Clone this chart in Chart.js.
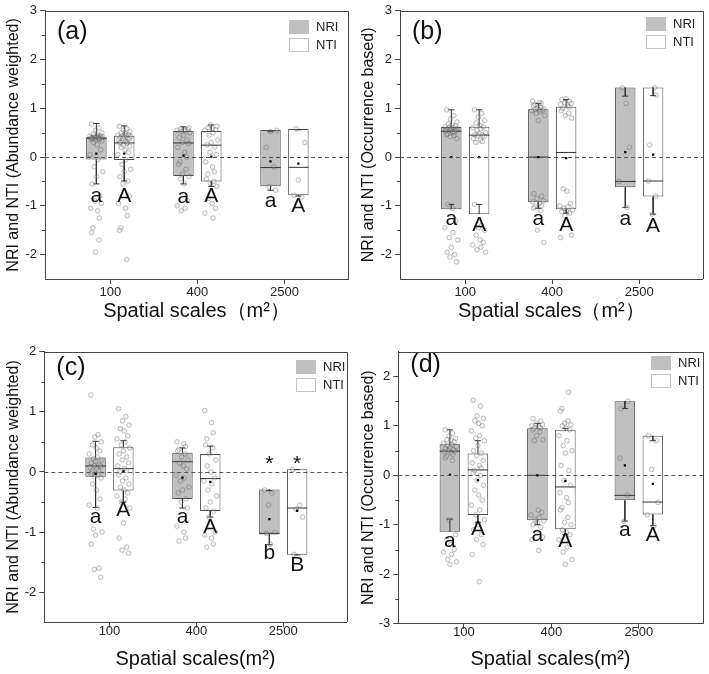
<!DOCTYPE html>
<html>
<head>
<meta charset="utf-8">
<script src="https://cdn.jsdelivr.net/npm/chart.js@4.4.1/dist/chart.umd.min.js"></script>
<style>
html, body { margin: 0; padding: 0; background: #fff; }
#wrap { position: relative; width: 709px; height: 674px; }
.cell { position: absolute; }
</style>
</head>
<body>
<div id="wrap">
  <div class="cell" style="left:0;top:0"><canvas id="pa" width="354" height="335"></canvas></div>
  <div class="cell" style="left:355px;top:0"><canvas id="pb" width="354" height="335"></canvas></div>
  <div class="cell" style="left:0;top:335px"><canvas id="pc" width="354" height="339"></canvas></div>
  <div class="cell" style="left:355px;top:335px"><canvas id="pd" width="354" height="339"></canvas></div>
</div>
<script>
const categories = ['100', '400', '2500'];

// box stats for each scale: [lower whisker, Q1, median, Q3, upper whisker, mean]
const aNriBox = [[-0.55, -0.05, 0.385, 0.405, 0.69, 0.07], [-0.55, -0.39, 0.29, 0.535, 0.62, 0.03], [-0.68, -0.6, -0.215, 0.555, 0.52, -0.09]];
const aNtiBox = [[-0.49, -0.06, 0.29, 0.44, 0.64, 0.07], [-0.6, -0.5, 0.245, 0.535, 0.66, 0.01], [-0.8, -0.78, -0.21, 0.575, 0.56, -0.135]];
const bNriBox = [[-0.97, -1.07, 0.53, 0.615, 0.97, 0.0], [-1.05, -0.925, 0.0, 0.98, 1.1, 0.0], [-1.03, -0.62, -0.5, 1.425, 1.25, 0.1]];
const bNtiBox = [[-0.97, -1.17, 0.45, 0.62, 0.97, 0.0], [-1.15, -1.07, 0.095, 1.03, 1.18, -0.02], [-1.17, -0.81, -0.49, 1.425, 1.26, 0.05]];
const cNriBox = [[-0.59, -0.08, 0.1, 0.24, 0.51, -0.03], [-0.6, -0.45, 0.17, 0.32, 0.4, -0.095], [-1.21, -1.04, -1.02, -0.29, -0.31, -0.785]];
const cNtiBox = [[-0.5, -0.31, 0.055, 0.41, 0.52, 0.01], [-0.75, -0.65, -0.11, 0.3, 0.43, -0.165], [-1.38, -1.375, -0.6, 0.045, 0.04, -0.645]];
const dNriBox = [[-0.885, -1.14, 0.49, 0.63, 0.92, 0.01], [-1.0, -0.91, 0.0, 0.95, 1.05, 0.0], [-0.925, -0.505, -0.405, 1.5, 1.35, 0.2]];
const dNtiBox = [[-0.95, -0.8, 0.11, 0.44, 0.7, -0.095], [-1.2, -1.09, -0.235, 0.92, 0.95, -0.11], [-1.02, -0.79, -0.54, 0.8, 0.7, -0.175]];

// individual plot values, one list per scale
const aNriPoints = [
  [0.68, 0.6, 0.55, 0.5, 0.47, 0.45, 0.44, 0.43, 0.42, 0.42, 0.41, 0.41, 0.4, 0.4, 0.4, 0.39, 0.39, 0.39, 0.38, 0.38, 0.37, 0.36, 0.35, 0.33, 0.3, 0.25, 0.15, 0.05, -0.05, -0.2, -0.3, -0.4, -0.55, -0.8, -0.9, -0.95, -1.05, -1.1, -1.25, -1.45, -1.55, -1.7, -1.95],
  [0.6, 0.58, 0.57, 0.56, 0.55, 0.54, 0.53, 0.5, 0.45, 0.4, 0.35, 0.3, 0.28, 0.2, 0.1, 0.0, -0.1, -0.15, -0.25, -0.35, -0.4, -0.45, -0.55, -0.9, -1.0, -1.05, -1.1],
  [0.55, 0.52, 0.2, -0.2, -0.6, -0.68]
];
const aNtiPoints = [
  [0.63, 0.58, 0.55, 0.52, 0.5, 0.48, 0.46, 0.45, 0.44, 0.43, 0.42, 0.41, 0.4, 0.39, 0.38, 0.37, 0.35, 0.33, 0.31, 0.3, 0.29, 0.28, 0.25, 0.22, 0.2, 0.15, 0.1, 0.05, -0.05, -0.15, -0.25, -0.3, -0.4, -0.49, -0.55, -0.8, -0.95, -1.05, -1.2, -1.45, -1.5, -2.1],
  [0.66, 0.63, 0.6, 0.58, 0.56, 0.55, 0.5, 0.45, 0.35, 0.3, 0.25, 0.2, 0.1, 0.05, -0.1, -0.2, -0.3, -0.35, -0.45, -0.5, -0.55, -0.6, -0.85, -0.95, -1.05, -1.15, -1.25],
  [0.58, 0.3, -0.47, -0.78, -0.82]
];
const bNriPoints = [
  [0.97, 0.85, 0.78, 0.72, 0.68, 0.66, 0.64, 0.62, 0.61, 0.6, 0.59, 0.58, 0.57, 0.56, 0.55, 0.54, 0.53, 0.52, 0.5, 0.48, 0.46, 0.44, 0.42, 0.38, -0.97, -1.05, -1.3, -1.45, -1.55, -1.65, -1.7, -1.85, -1.95, -2.0, -2.05, -2.15],
  [1.15, 1.12, 1.1, 1.08, 1.05, 1.02, 1.0, 0.99, 0.98, 0.97, 0.96, 0.95, 0.93, 0.9, 0.85, 0.75, -0.75, -0.8, -0.85, -0.9, -0.92, -0.95, -1.0, -1.02, -1.05, -1.1, -1.5, -1.75],
  [1.42, 1.1, 0.2, -0.5, -1.03]
];
const bNtiPoints = [
  [0.97, 0.9, 0.82, 0.75, 0.7, 0.65, 0.62, 0.6, 0.58, 0.55, 0.5, 0.48, 0.46, 0.45, 0.44, 0.42, 0.38, 0.35, 0.32, 0.3, -0.97, -1.4, -1.45, -1.5, -1.6, -1.7, -1.75, -1.8, -1.85, -1.9, -1.95],
  [1.2, 1.18, 1.15, 1.12, 1.1, 1.08, 1.05, 1.03, 1.0, 0.95, 0.9, 0.85, 0.8, -0.65, -0.7, -0.95, -1.0, -1.02, -1.05, -1.08, -1.1, -1.12, -1.15, -1.2, -1.6, -1.65],
  [1.42, 1.27, 0.25, -0.49, -0.8, -1.17]
];
const cNriPoints = [
  [1.28, 0.62, 0.58, 0.5, 0.45, 0.4, 0.35, 0.3, 0.25, 0.22, 0.2, 0.18, 0.15, 0.12, 0.1, 0.1, 0.08, 0.05, 0.02, 0.0, -0.03, -0.05, -0.08, -0.1, -0.2, -0.3, -0.45, -0.55, -0.6, -0.95, -1.0, -1.05, -1.2, -1.6, -1.62, -1.75],
  [0.5, 0.47, 0.42, 0.38, 0.35, 0.3, 0.25, 0.2, 0.15, 0.1, 0.05, -0.05, -0.1, -0.15, -0.25, -0.3, -0.35, -0.45, -0.5, -0.6, -0.9, -1.0, -1.1, -1.15],
  [-0.3, -0.35, -0.55, -1.0, -1.02, -1.2]
];
const cNtiPoints = [
  [1.05, 0.92, 0.85, 0.78, 0.72, 0.68, 0.6, 0.55, 0.5, 0.45, 0.4, 0.35, 0.3, 0.25, 0.2, 0.15, 0.1, 0.06, 0.03, 0.0, -0.05, -0.1, -0.15, -0.2, -0.25, -0.3, -0.35, -0.4, -0.45, -0.5, -0.6, -0.85, -1.1, -1.25, -1.3, -1.35],
  [1.02, 0.82, 0.65, 0.55, 0.45, 0.4, 0.3, 0.2, 0.1, 0.0, -0.1, -0.15, -0.2, -0.3, -0.4, -0.5, -0.6, -0.65, -0.75, -1.0, -1.05, -1.1, -1.2, -1.25],
  [0.04, -0.55, -0.62, -0.75, -1.37]
];
const dNriPoints = [
  [0.92, 0.85, 0.8, 0.75, 0.72, 0.7, 0.68, 0.65, 0.62, 0.6, 0.58, 0.56, 0.54, 0.52, 0.5, 0.49, 0.48, 0.45, 0.42, 0.38, 0.35, 0.3, -0.9, -1.2, -1.3, -1.4, -1.5, -1.55, -1.6, -1.7, -1.75, -1.8],
  [1.15, 1.1, 1.05, 1.02, 1.0, 0.98, 0.96, 0.95, 0.92, 0.88, 0.8, 0.72, 0.7, -0.7, -0.75, -0.8, -0.85, -0.9, -0.92, -0.95, -1.0, -1.05, -1.15, -1.25, -1.3, -1.52],
  [1.5, 1.35, 0.35, -0.4, -0.93]
];
const dNtiPoints = [
  [1.52, 1.4, 1.2, 1.15, 1.1, 1.05, 1.0, 0.9, 0.8, 0.75, 0.7, 0.6, 0.5, 0.45, 0.4, 0.3, 0.25, 0.2, 0.15, 0.1, 0.05, 0.0, -0.1, -0.2, -0.3, -0.4, -0.5, -0.6, -0.7, -0.8, -0.9, -1.0, -1.1, -1.2, -1.3, -1.4, -1.6, -2.15],
  [1.68, 1.35, 1.3, 1.1, 1.05, 1.02, 1.0, 0.95, 0.92, 0.8, 0.7, 0.6, 0.5, 0.45, 0.2, 0.1, -0.1, -0.2, -0.35, -0.45, -0.55, -0.65, -0.7, -0.85, -0.95, -1.0, -1.1, -1.15, -1.2, -1.3, -1.45, -1.55, -1.7, -1.8],
  [0.8, 0.7, 0.12, -0.55, -0.8, -1.02]
];

// significance letters and the value they are written at
const aLettersNri = ['a', 'a', 'a'], aLettersNti = ['A', 'A', 'A'];
const aLetterAtNri = [-0.81, -0.82, -0.9], aLetterAtNti = [-0.81, -0.8, -1.01];
const bLettersNri = ['a', 'a', 'a'], bLettersNti = ['A', 'A', 'A'];
const bLetterAtNri = [-1.27, -1.27, -1.27], bLetterAtNti = [-1.39, -1.39, -1.41];
const cLettersNri = ['a', 'a', 'b'], cLettersNti = ['A', 'A', 'B'];
const cLetterAtNri = [-0.76, -0.76, -1.35], cLetterAtNti = [-0.64, -0.92, -1.55];
const dLettersNri = ['a', 'a', 'a'], dLettersNti = ['A', 'A', 'A'];
const dLetterAtNri = [-1.34, -1.21, -1.11], dLetterAtNti = [-1.09, -1.34, -1.22];
const cStarsNri = ['', '', '*'], cStarsNti = ['', '', '*'];
const cStarAt = 0.13;

const FONT = '"Liberation Sans", Arial, sans-serif';
const NRI_FILL = '#c0c0c0', NTI_FILL = '#ffffff', EDGE = '#4d4d4d';
const BOX_OFF = 0.16, BOX_W = 0.235, CAP_W = 0.035;
const JITTER = [-0.55, 0.3, -0.1, 0.65, -0.35, 0.1, 0.5, -0.75, 0.2, -0.25, 0.75, 0.0, -0.5, 0.4, -0.15, 0.6, -0.65, 0.15, 0.35, -0.4];

Chart.defaults.font.family = FONT;
Chart.defaults.color = '#222';

function segments(stats, dx) {
  const out = [];
  const gap = (x) => out.push({ x: x, y: null });
  stats.forEach((s, i) => {
    const x = i + 1 + dx;
    const [lo, q1, med, q3, hi] = s;
    out.push({ x: x, y: q3 }, { x: x, y: hi }); gap(x);
    out.push({ x: x, y: q1 }, { x: x, y: lo }); gap(x);
    out.push({ x: x - CAP_W, y: hi }, { x: x + CAP_W, y: hi }); gap(x);
    out.push({ x: x - CAP_W, y: lo }, { x: x + CAP_W, y: lo }); gap(x);
    out.push({ x: x - BOX_W / 2, y: med }, { x: x + BOX_W / 2, y: med }); gap(x);
  });
  return out;
}

function jittered(groups, dx) {
  const out = [];
  let k = 0;
  groups.forEach((vals, i) => {
    vals.forEach((v) => {
      out.push({ x: i + 1 + dx + JITTER[k % JITTER.length] * BOX_W * 0.42, y: v });
      k++;
    });
  });
  return out;
}

function decor(p) {
  return {
    id: 'decor',
    afterDatasetsDraw(chart) {
      const { ctx, chartArea: ca, scales: { x, y } } = chart;
      ctx.save();
      ctx.strokeStyle = '#555';
      ctx.lineWidth = 1;
      ctx.setLineDash([4, 3]);
      const y0 = Math.round(y.getPixelForValue(0)) + 0.5;
      ctx.beginPath(); ctx.moveTo(ca.left, y0); ctx.lineTo(ca.right, y0); ctx.stroke();
      ctx.setLineDash([]);

      ctx.fillStyle = '#111';
      ctx.textAlign = 'center';
      ctx.textBaseline = 'middle';
      ctx.font = '21px ' + FONT;
      [[p.lettersNri, p.letterAtNri, -BOX_OFF], [p.lettersNti, p.letterAtNti, BOX_OFF]].forEach(([txt, at, dx]) => {
        txt.forEach((t, i) => ctx.fillText(t, x.getPixelForValue(i + 1 + dx), y.getPixelForValue(at[i])));
      });
      if (p.starsNri) {
        [[p.starsNri, -BOX_OFF], [p.starsNti, BOX_OFF]].forEach(([txt, dx]) => {
          txt.forEach((t, i) => { if (t) ctx.fillText(t, x.getPixelForValue(i + 1 + dx), y.getPixelForValue(p.starAt)); });
        });
      }
      ctx.restore();
    },
    afterDraw(chart) {
      const { ctx, chartArea: ca, scales: { y } } = chart;
      ctx.save();
      ctx.strokeStyle = '#444';
      ctx.lineWidth = 1;
      // top and right frame
      ctx.beginPath();
      ctx.moveTo(Math.round(ca.left), Math.round(ca.top) + 0.5);
      ctx.lineTo(Math.round(ca.right) + 0.5, Math.round(ca.top) + 0.5);
      ctx.lineTo(Math.round(ca.right) + 0.5, Math.round(ca.bottom));
      ctx.stroke();
      // minor ticks on the value axis
      for (let v = Math.ceil(p.yMin) - 0.5; v < p.yMax; v += 1) {
        if (v <= p.yMin) continue;
        const py = Math.round(y.getPixelForValue(v)) + 0.5;
        ctx.beginPath(); ctx.moveTo(ca.left - 3, py); ctx.lineTo(ca.left, py); ctx.stroke();
      }
      // legend
      const lx = Math.round(ca.right + p.legendDx), ly = Math.round(ca.top + p.legendDy);
      ctx.fillStyle = NRI_FILL;
      ctx.fillRect(lx, ly, 20, 14);
      ctx.strokeStyle = '#c4c4c4';
      ctx.strokeRect(lx + 0.5, ly + 18.5, 19, 13);
      ctx.fillStyle = '#222';
      ctx.font = '13px ' + FONT;
      ctx.textAlign = 'left';
      ctx.textBaseline = 'middle';
      ctx.fillText('NRI', lx + 27, ly + 7);
      ctx.fillText('NTI', lx + 27, ly + 25);
      // panel tag
      ctx.font = '25px ' + FONT;
      ctx.fillStyle = '#111';
      ctx.fillText(p.tag, ca.left + 12, p.tagY);
      ctx.restore();
    }
  };
}

function makePanel(p) {
  const datasets = [
    { type: 'scatter', data: jittered(p.nriPoints, -BOX_OFF), order: 1, pointRadius: 2.3, borderWidth: 0.8,
      pointBorderColor: 'rgba(70,70,70,0.42)', pointBackgroundColor: 'rgba(200,200,200,0.15)' },
    { type: 'scatter', data: jittered(p.ntiPoints, BOX_OFF), order: 1, pointRadius: 2.3, borderWidth: 0.8,
      pointBorderColor: 'rgba(70,70,70,0.42)', pointBackgroundColor: 'rgba(200,200,200,0.15)' },
    { type: 'scatter', order: 0, pointStyle: 'rect', pointRadius: 1.6, pointBackgroundColor: '#000', pointBorderColor: '#000', borderWidth: 0,
      data: p.nri.map((s, i) => ({ x: i + 1 - BOX_OFF, y: s[5] })).concat(p.nti.map((s, i) => ({ x: i + 1 + BOX_OFF, y: s[5] }))) },
    { type: 'line', order: 2, data: segments(p.nri, -BOX_OFF).concat(segments(p.nti, BOX_OFF)),
      borderColor: '#333', borderWidth: 1, pointRadius: 0, spanGaps: false, tension: 0 },
    { type: 'bar', label: 'NRI', order: 3, grouped: false, data: p.nri.map((s, i) => ({ x: i + 1 - BOX_OFF, y: [s[1], s[3]] })),
      backgroundColor: NRI_FILL, borderColor: EDGE, borderWidth: 1, borderSkipped: false,
      categoryPercentage: BOX_W / (2 * BOX_OFF), barPercentage: 1 },
    { type: 'bar', label: 'NTI', order: 3, grouped: false, data: p.nti.map((s, i) => ({ x: i + 1 + BOX_OFF, y: [s[1], s[3]] })),
      backgroundColor: NTI_FILL, borderColor: EDGE, borderWidth: 1, borderSkipped: false,
      categoryPercentage: BOX_W / (2 * BOX_OFF), barPercentage: 1 }
  ];

  new Chart(document.getElementById(p.id), {
    type: 'scatter',
    data: { datasets: datasets },
    options: {
      responsive: false,
      animation: false,
      events: [],
      layout: { padding: { top: p.padTop, right: p.padRight, left: 0, bottom: 0 } },
      plugins: { legend: { display: false }, tooltip: { enabled: false } },
      scales: {
        x: {
          type: 'linear', min: 0.25, max: 3.73, offset: false,
          afterBuildTicks: (s) => { s.ticks = categories.map((c, i) => ({ value: i + 1 })); },
          afterFit: (s) => { s.height = p.xH; },
          ticks: { callback: (v) => categories[v - 1], font: { size: 13 }, padding: p.xTickPad, color: '#222', maxRotation: 0 },
          grid: { offset: false, drawOnChartArea: false, drawTicks: true, tickLength: 5, color: '#444' },
          border: { color: '#444', width: 1 },
          title: { display: true, text: p.xTitle, font: { size: 20, lineHeight: 1.2 }, color: '#111', padding: { top: 0, bottom: p.xTitlePad } }
        },
        y: {
          type: 'linear', min: p.yMin, max: p.yMax,
          afterBuildTicks: (s) => {
            const t = [];
            for (let v = Math.ceil(p.yMin); v <= p.yMax; v++) t.push({ value: v });
            s.ticks = t;
          },
          afterFit: (s) => { s.width = p.yW; },
          ticks: { font: { size: 13 }, padding: 3, color: '#222', callback: (v) => String(v) },
          grid: { drawOnChartArea: false, drawTicks: true, tickLength: 5, color: '#444' },
          border: { color: '#444', width: 1 },
          title: { display: true, text: p.yTitle, font: { size: 16, lineHeight: 1.2 }, color: '#111', padding: { top: 4, bottom: 0 } }
        }
      }
    },
    plugins: [decor(p)]
  });
}

makePanel({ id: 'pa', tag: '(a)', tagY: 32, yTitle: 'NRI and NTI (Abundance weighted)', xTitle: 'Spatial scales（m²）',
  yMin: -2.5, yMax: 3, nri: aNriBox, nti: aNtiBox, nriPoints: aNriPoints, ntiPoints: aNtiPoints,
  lettersNri: aLettersNri, lettersNti: aLettersNti, letterAtNri: aLetterAtNri, letterAtNti: aLetterAtNti,
  padTop: 7, padRight: 6, yW: 45, xH: 56, xTickPad: 1, xTitlePad: 11.5, legendDx: -59, legendDy: 8.7 });

makePanel({ id: 'pb', tag: '(b)', tagY: 32, yTitle: 'NRI and NTI (Occurrence based)', xTitle: 'Spatial scales（m²）',
  yMin: -2.5, yMax: 3, nri: bNriBox, nti: bNtiBox, nriPoints: bNriPoints, ntiPoints: bNtiPoints,
  lettersNri: bLettersNri, lettersNti: bLettersNti, letterAtNri: bLetterAtNri, letterAtNti: bLetterAtNti,
  padTop: 7, padRight: 6.3, yW: 45, xH: 56, xTickPad: 1, xTitlePad: 11.5, legendDx: -57, legendDy: 6.3 });

makePanel({ id: 'pc', tag: '(c)', tagY: 33, yTitle: 'NRI and NTI (Abundance weighted)', xTitle: 'Spatial scales(m²)',
  yMin: -2.5, yMax: 2, nri: cNriBox, nti: cNtiBox, nriPoints: cNriPoints, ntiPoints: cNtiPoints,
  lettersNri: cLettersNri, lettersNti: cLettersNti, letterAtNri: cLetterAtNri, letterAtNti: cLetterAtNti,
  starsNri: cStarsNri, starsNti: cStarsNti, starAt: cStarAt,
  padTop: 16.7, padRight: 7.3, yW: 44.3, xH: 51.7, xTickPad: -4, xTitlePad: 2.5, legendDx: -51, legendDy: 8.3 });

makePanel({ id: 'pd', tag: '(d)', tagY: 30, yTitle: 'NRI and NTI (Occurrence based)', xTitle: 'Spatial scales(m²)',
  yMin: -3, yMax: 2.5, nri: dNriBox, nti: dNtiBox, nriPoints: dNriPoints, ntiPoints: dNtiPoints,
  lettersNri: dLettersNri, lettersNti: dLettersNti, letterAtNri: dLetterAtNri, letterAtNti: dLetterAtNti,
  padTop: 16.7, padRight: 6.3, yW: 43.3, xH: 50.3, xTickPad: -4, xTitlePad: 2.5, legendDx: -52, legendDy: 4 });
</script>
</body>
</html>
